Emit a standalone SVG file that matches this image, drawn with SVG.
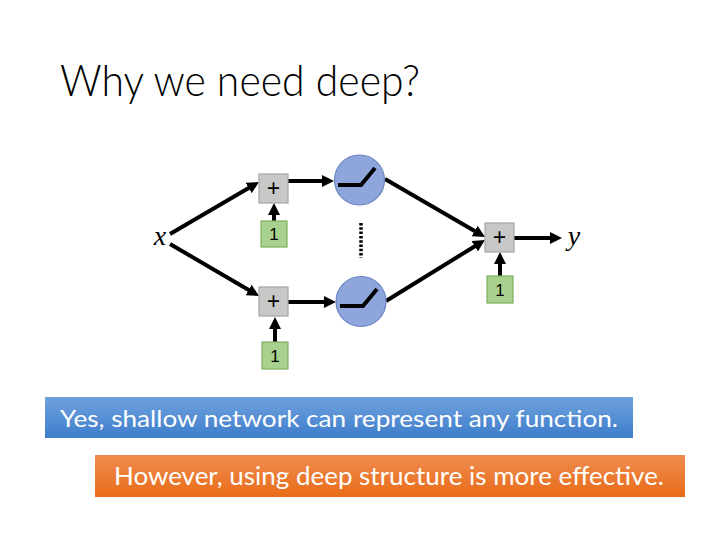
<svg xmlns="http://www.w3.org/2000/svg" width="720" height="540" viewBox="0 0 720 540">
  <defs>
    <marker id="arr" viewBox="0 0 12 12" refX="2" refY="6" markerWidth="12" markerHeight="12" markerUnits="userSpaceOnUse" orient="auto">
      <path d="M0,0 L12,6 L0,12 z" fill="#000"/>
    </marker>
    <linearGradient id="blueG" x1="0" y1="0" x2="0" y2="1">
      <stop offset="0" stop-color="#6FA2DE"/>
      <stop offset="1" stop-color="#3E7DCB"/>
    </linearGradient>
    <linearGradient id="orangeG" x1="0" y1="0" x2="0" y2="1">
      <stop offset="0" stop-color="#F08C50"/>
      <stop offset="1" stop-color="#E86B17"/>
    </linearGradient>
    <style>
      .plus { fill: #C8C8C8; stroke: #A6A6A6; stroke-width: 1.2; }
      .one { fill: #A9D18E; stroke: #7FAE5F; stroke-width: 1.2; }
      .neuron { fill: #8FA6DC; stroke: #6B84C2; stroke-width: 1.2; }
      .relu { fill: none; stroke: #000; stroke-width: 4; stroke-linejoin: miter; }
      .lbl { font-family: "Liberation Sans", sans-serif; fill: #000; text-anchor: middle; }
      .conn line { stroke: #000; stroke-width: 4; marker-end: url(#arr); }
      .math { font-family: "Liberation Serif", serif; font-style: italic; font-size: 28px; fill: #000; text-anchor: middle; }
      .bt { font-family: "Lato", "Liberation Sans", sans-serif; fill: #FFFFFF; }
    </style>
  </defs>
  <rect width="720" height="540" fill="#FFFFFF"/>

  <text id="title" x="60" y="96" font-family="Lato, 'Liberation Sans', sans-serif" font-weight="300" font-size="44" fill="#000" textLength="360" lengthAdjust="spacingAndGlyphs">Why we need deep?</text>

  <g id="connectors" class="conn">
    <line x1="170" y1="234" x2="250.4" y2="187"/>
    <line x1="170" y1="244" x2="250.4" y2="291"/>
    <line x1="274" y1="221" x2="274" y2="213"/>
    <line x1="275" y1="342" x2="275" y2="327"/>
    <line x1="288" y1="181" x2="324" y2="181"/>
    <line x1="288" y1="302" x2="326" y2="302"/>
    <line x1="385" y1="179" x2="476.4" y2="232"/>
    <line x1="386" y1="301" x2="476.5" y2="245.2"/>
    <line x1="500" y1="276" x2="500" y2="262"/>
    <line x1="514" y1="238" x2="552" y2="238"/>
    <line x1="361" y1="223" x2="361" y2="258" style="marker-end:none; stroke-width:3.5; stroke-dasharray:2.5 1.8"/>
  </g>

  <g id="x-input"><text class="math" x="160" y="245">x</text></g>
  <g id="y-output"><text class="math" x="574" y="245">y</text></g>

  <g id="sum1"><rect class="plus" x="259" y="174" width="29" height="29"/><text class="lbl" x="273.5" y="196" font-size="23">+</text></g>
  <g id="bias1"><rect class="one" x="261" y="221" width="26" height="26"/><text class="lbl" x="274" y="240" font-size="17">1</text></g>
  <g id="sum2"><rect class="plus" x="259" y="287" width="29" height="29"/><text class="lbl" x="273.5" y="309" font-size="23">+</text></g>
  <g id="bias2"><rect class="one" x="262" y="342" width="26" height="27"/><text class="lbl" x="275" y="361.5" font-size="17">1</text></g>
  <g id="sum3"><rect class="plus" x="485" y="223" width="29" height="29"/><text class="lbl" x="499.5" y="245" font-size="23">+</text></g>
  <g id="bias3"><rect class="one" x="487" y="276" width="26" height="27"/><text class="lbl" x="500" y="295.5" font-size="17">1</text></g>

  <g id="neuron1"><circle class="neuron" cx="359.5" cy="180" r="25"/><path class="relu" d="M338,185 L361,185 L375,168"/></g>
  <g id="neuron2"><circle class="neuron" cx="361" cy="301.5" r="25"/><path class="relu" d="M340,306 L363,306 L377,289"/></g>

  <g id="note1">
    <rect x="45" y="397" width="588" height="41" fill="url(#blueG)"/>
    <text class="bt" x="60" y="427" font-size="24" textLength="558" lengthAdjust="spacingAndGlyphs">Yes, shallow network can represent any function.</text>
  </g>
  <g id="note2">
    <rect x="95" y="455" width="590" height="42" fill="url(#orangeG)"/>
    <text class="bt" x="114" y="485" font-size="25" fill="#FFF8EC" textLength="550" lengthAdjust="spacingAndGlyphs">However, using deep structure is more effective.</text>
  </g>
</svg>
